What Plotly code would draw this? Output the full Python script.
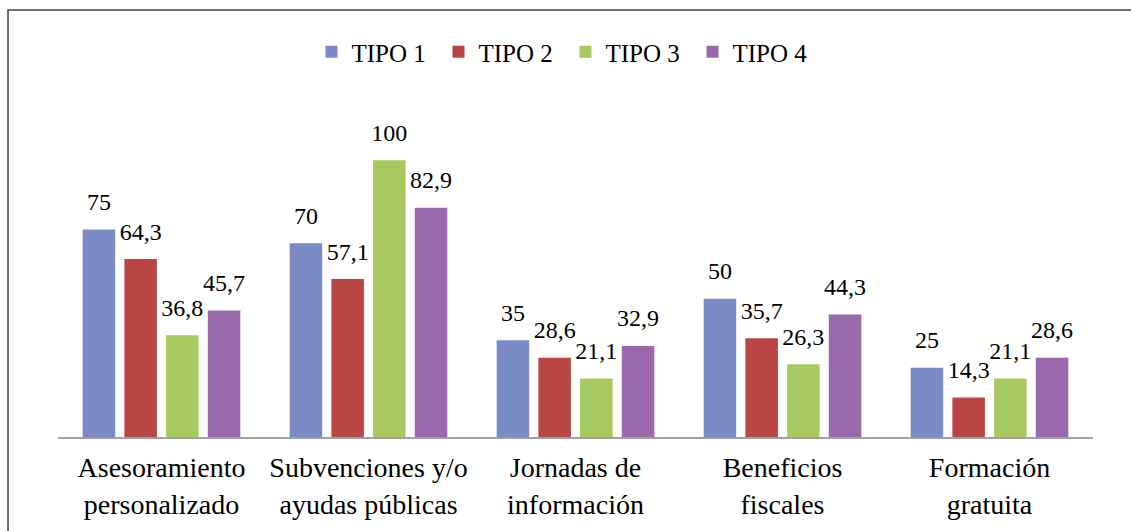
import plotly.graph_objects as go

categories = ["Asesoramiento<br>personalizado", "Subvenciones y/o<br>ayudas públicas",
              "Jornadas de<br>información", "Beneficios<br>fiscales", "Formación<br>gratuita"]
series_names = ["TIPO 1", "TIPO 2", "TIPO 3", "TIPO 4"]
tipo1 = [75, 70, 35, 50, 25]
tipo2 = [64.3, 57.1, 28.6, 35.7, 14.3]
tipo3 = [36.8, 100, 21.1, 26.3, 21.1]
tipo4 = [45.7, 82.9, 32.9, 44.3, 28.6]
colors = ["#7b8bc6", "#b94644", "#a6c960", "#9a69ab"]

FONT = "Liberation Serif"

fig = go.Figure()
for name, vals, col in zip(series_names, [tipo1, tipo2, tipo3, tipo4], colors):
    fig.add_trace(go.Bar(
        x=categories, y=vals, name=name, marker_color=col,
        marker_line_width=0, offsetgroup=name, alignmentgroup="a",
        hoverinfo="skip",
    ))
for name, vals in zip(series_names, [tipo1, tipo2, tipo3, tipo4]):
    fig.add_trace(go.Scatter(
        x=categories, y=vals, mode="markers+text", text=vals, texttemplate="%{y}",
        textposition="top center", offsetgroup=name, alignmentgroup="a",
        marker=dict(size=20, color="rgba(0,0,0,0)"),
        textfont=dict(family=FONT, size=24, color="black"),
        showlegend=False, cliponaxis=False, hoverinfo="skip",
    ))

fig.update_layout(
    width=1131, height=531,
    margin=dict(l=58, r=38, t=105, b=94, autoexpand=False),
    paper_bgcolor="white", plot_bgcolor="white",
    separators=",.",
    barmode="group", bargap=0.194, bargroupgap=0.22,
    scattermode="group", scattergap=0.194,
    font=dict(family=FONT, size=24, color="black"),
    showlegend=True,
    legend=dict(orientation="h", x=0.5, xanchor="center", xref="container",
                y=1 - 52 / 531, yanchor="middle", yref="container",
                bgcolor="rgba(0,0,0,0)",
                font=dict(family=FONT, size=25, color="black"),
                itemwidth=30, entrywidth=82, traceorder="normal"),
    xaxis=dict(showline=True, linecolor="#a0a0a0", linewidth=1.5, ticks="",
               ticklabelstandoff=5,
               tickfont=dict(family=FONT, size=28, color="black"), showgrid=False),
    yaxis=dict(range=[0, 120], visible=False, showgrid=False, zeroline=False),
    shapes=[dict(type="rect", xref="paper", yref="paper",
                 x0=-0.0483, y0=-0.5, x1=1.2, y1=1.286,
                 line=dict(color="#404040", width=1.5), fillcolor="rgba(0,0,0,0)")],
)

fig.write_html("out.html", config={"displayModeBar": False},
               post_script="document.body.style.margin='0px';")
